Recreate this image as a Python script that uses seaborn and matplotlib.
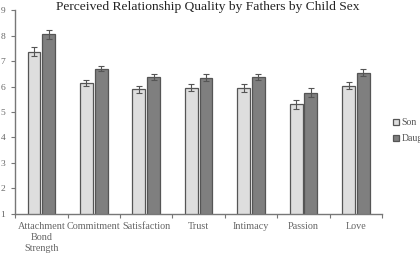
import matplotlib
matplotlib.use("Agg")
import matplotlib.pyplot as plt
import seaborn as sns
import pandas as pd
import numpy as np

categories = ["Attachment\nBond\nStrength", "Commitment", "Satisfaction", "Trust",
              "Intimacy", "Passion", "Love"]
son = [7.37, 6.15, 5.90, 5.95, 5.95, 5.30, 6.03]
daughter = [8.05, 6.70, 6.38, 6.35, 6.38, 5.75, 6.55]
son_err = [0.17, 0.12, 0.14, 0.14, 0.15, 0.17, 0.13]
daughter_err = [0.18, 0.09, 0.13, 0.13, 0.12, 0.18, 0.15]

df = pd.DataFrame({
    "category": categories * 2,
    "value": son + daughter,
    "err": son_err + daughter_err,
    "sex": ["Son"] * len(categories) + ["Daughter"] * len(categories),
})

sns.set_style("white")
plt.rcParams["font.family"] = ["Liberation Serif", "DejaVu Serif"]

fig = plt.figure(figsize=(4.2, 2.8), dpi=100)
ax = fig.add_axes([0.036, 0.236, 0.874, 0.728])

ax = sns.barplot(data=df, x="category", y="value", hue="sex", ax=ax,
                 palette={"Son": "#dedede", "Daughter": "#7f7f7f"},
                 width=0.56, gap=0.12, errorbar=None,
                 edgecolor="#555555", linewidth=0.9, legend=True)

# error bars at bar centres
n = len(categories)
for i, bar in enumerate(ax.patches[:2 * n]):
    x = bar.get_x() + bar.get_width() / 2
    ax.errorbar(x, df["value"].iloc[i], yerr=df["err"].iloc[i], fmt="none",
                ecolor="#555555", elinewidth=0.8, capsize=2.2, capthick=0.8)

ax.set_ylim(1, 9)
ax.set_xlim(-0.5, n - 0.5)
ax.set_yticks(range(1, 10))
ax.set_xlabel("")
ax.set_ylabel("")
fig.text(0.494, 0.997, "Perceived Relationship Quality by Fathers by Child Sex",
         fontsize=9.7, color="#222222", ha="center", va="top")

ax.tick_params(axis="x", length=0, labelsize=7.3, labelcolor="#666666", pad=6)
ax.tick_params(axis="y", length=3, width=0.8, color="#777777",
               labelsize=6.8, labelcolor="#666666", pad=4, left=True)
ax.set_xticks(np.arange(-0.5, n, 1.0), minor=True)
ax.tick_params(axis="x", which="minor", length=3, width=0.8, color="#777777",
               bottom=True)
for lbl in ax.get_xticklabels():
    lbl.set_linespacing(1.3)

sns.despine(ax=ax)
for s in ["left", "bottom"]:
    ax.spines[s].set_color("#777777")
    ax.spines[s].set_linewidth(1.0)

leg = ax.legend(loc="upper left", bbox_to_anchor=(0.936, 0.577),
                bbox_transform=fig.transFigure, frameon=False, fontsize=7,
                handlelength=0.6, handleheight=0.6, handletextpad=0.3,
                labelspacing=0.7, borderaxespad=0, borderpad=0)
for t in leg.get_texts():
    t.set_color("#555555")

fig.savefig("out.png", dpi=100)
